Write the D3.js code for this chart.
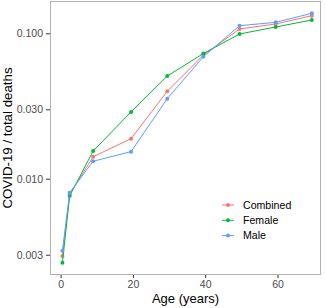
<!DOCTYPE html>
<html><head><meta charset="utf-8">
<script src="https://cdn.jsdelivr.net/npm/d3@7"></script>
<style>body{margin:0;background:#fff}svg{display:block;font-family:"Liberation Sans",Arial,Helvetica,sans-serif}</style>
</head><body><svg id="c" width="325" height="308"></svg>
<script>
const ages = [0.5, 2.5, 9, 19.5, 29.5, 39.5, 49.5, 59.5, 69.5];
const combined = [0.00294, 0.0078, 0.01416, 0.01884, 0.0399, 0.0709, 0.1070, 0.1159, 0.1322];
const female   = [0.00264, 0.0076, 0.0155, 0.0288, 0.0508, 0.0726, 0.0989, 0.1105, 0.1235];
const male     = [0.0032, 0.0080, 0.01318, 0.01535, 0.0355, 0.0690, 0.1128, 0.1190, 0.1373];
const seriesNames = ["Combined", "Female", "Male"];
const seriesColors = ["#F8766D", "#00BA38", "#619CFF"];
const xTicks = [0, 20, 40, 60];
const yTicks = [0.003, 0.010, 0.030, 0.100];

const svg = d3.select("#c");
const L = 50, R = 321, T = 1, B = 275;
const x = d3.scaleLinear().domain([0, 20]).range([60.6, 132.9]);
const y = d3.scaleLog().domain([0.01, 0.1]).range([178.7, 33.3]);

svg.append("rect").attr("x", L + 0.5).attr("y", T + 0.5).attr("width", R - L - 1).attr("height", B - T - 1)
  .attr("fill", "none").attr("stroke", "#b3b3b3").attr("stroke-width", 1);

const xa = svg.append("g").attr("transform", `translate(0,${B})`)
  .call(d3.axisBottom(x).tickValues(xTicks).tickSize(3).tickPadding(3).tickFormat(d3.format("d")));
const ya = svg.append("g").attr("transform", `translate(${L},0)`)
  .call(d3.axisLeft(y).tickValues(yTicks).tickSize(4).tickPadding(3).tickFormat(d3.format(".3f")));
[xa, ya].forEach(a => {
  a.select(".domain").remove();
  a.selectAll(".tick line").attr("stroke", "#333");
  a.selectAll(".tick text").attr("fill", "#4d4d4d").attr("font-size", 10.5).attr("font-family", null);
});

const data = [combined, female, male];
const line = d3.line().x((d, i) => x(ages[i])).y(d => y(d));
data.forEach((vals, k) => {
  const g = svg.append("g");
  g.append("path").attr("d", line(vals)).attr("fill", "none").attr("stroke", seriesColors[k]).attr("stroke-width", 1);
  g.selectAll("circle").data(vals).join("circle")
    .attr("cx", (d, i) => x(ages[i])).attr("cy", d => y(d)).attr("r", 2).attr("fill", seriesColors[k]);
});

// legend
const lg = svg.append("g");
seriesNames.forEach((n, k) => {
  const yy = 205 + k * 15.3;
  lg.append("line").attr("x1", 222).attr("x2", 234).attr("y1", yy).attr("y2", yy).attr("stroke", seriesColors[k]).attr("stroke-width", 1);
  lg.append("circle").attr("cx", 228).attr("cy", yy).attr("r", 2).attr("fill", seriesColors[k]);
  lg.append("text").attr("x", 243).attr("y", yy + 3.8).attr("font-size", 10.6).attr("fill", "#000").text(n);
});

svg.append("text").attr("x", (L + R) / 2).attr("y", 303).attr("text-anchor", "middle").attr("font-size", 13).text("Age (years)");
svg.append("text").attr("transform", `translate(12,${(T + B) / 2}) rotate(-90)`).attr("text-anchor", "middle").attr("font-size", 13.3).text("COVID-19 / total deaths");
</script></body></html>
